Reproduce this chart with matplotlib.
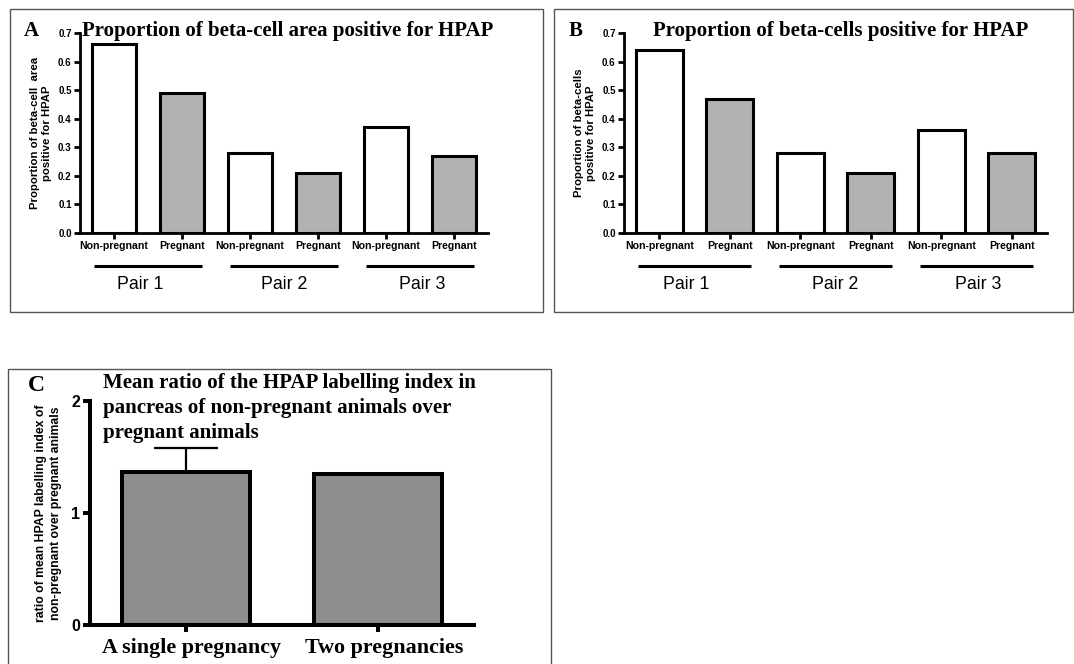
import numpy as np
import matplotlib
matplotlib.use("Agg")
import matplotlib.pyplot as plt
import matplotlib.transforms as mtransforms
from matplotlib.patches import Rectangle

W, H = 1074, 664

categories = ["Non-pregnant", "Pregnant"] * 3
pairs = ["Pair 1", "Pair 2", "Pair 3"]
area_positive = [0.66, 0.49, 0.28, 0.21, 0.37, 0.27]
cells_positive = [0.64, 0.47, 0.28, 0.21, 0.36, 0.28]
y_ticks_ab = [0.0, 0.1, 0.2, 0.3, 0.4, 0.5, 0.6, 0.7]

c_groups = ["A single pregnancy", "Two pregnancies"]
c_ratio = [1.37, 1.35]
c_err_upper = [0.21, 0.0]
c_ticks = [0, 1, 2]

SERIF = "Liberation Serif"
SANS = "Liberation Sans"
colors_ab = ["white", "#b2b2b2"] * 3


def px_axes(fig, left, top, right, bottom):
    return fig.add_axes([left / W, 1 - bottom / H, (right - left) / W, (bottom - top) / H])


def box(fig, left, top, right, bottom):
    fig.patches.append(Rectangle((left / W, 1 - bottom / H), (right - left) / W, (bottom - top) / H,
                                 transform=fig.transFigure, fill=False, edgecolor="#555555",
                                 linewidth=1.0))


def pair_panel(ax, values, title, letter, ylabel, title_x, pair_shift):
    x = np.arange(len(values))
    ax.bar(x, values, width=0.66, color=colors_ab, edgecolor="black", linewidth=2.2, zorder=2)
    ax.set_xlim(-0.5, 5.5)
    ax.set_ylim(0, 0.7)
    for s in ["top", "right"]:
        ax.spines[s].set_visible(False)
    for s in ["left", "bottom"]:
        ax.spines[s].set_linewidth(2.0)
    ax.set_yticks(y_ticks_ab)
    ax.set_yticklabels([f"{v:.1f}" for v in y_ticks_ab], fontsize=7, fontweight="bold", family=SANS)
    ax.set_xticks(x)
    ax.set_xticklabels(categories, fontsize=7.6, fontweight="bold", family=SANS)
    ax.tick_params(axis="both", width=2.0, length=4, pad=2)
    ax.set_ylabel(ylabel, fontsize=8.2, fontweight="bold", family=SANS, labelpad=4,
                  linespacing=1.3)
    tr = ax.get_xaxis_transform()
    for i, p in enumerate(pairs):
        ax.plot([2 * i - 0.3, 2 * i + 1.3], [-0.165, -0.165], color="black", lw=2.2,
                transform=tr, clip_on=False, solid_capstyle="butt")
        ax.text(2 * i + 0.5 + pair_shift[i], -0.26, p, transform=tr, ha="center", va="center",
                fontsize=12.8, family=SANS)
    ax.text(title_x, 1.01, title, transform=ax.transAxes, ha="center", va="center",
            fontsize=15, fontweight="bold", family=SERIF)
    ax.text(letter[1], 1.01, letter[0], transform=ax.transAxes, ha="center", va="center",
            fontsize=15, fontweight="bold", family=SERIF)


fig = plt.figure(figsize=(W / 100, H / 100), dpi=100)

box(fig, 10, 9, 543, 312)
box(fig, 554, 9, 1073, 312)
box(fig, 8, 369, 551, 670)

axA = px_axes(fig, 80, 33, 488, 233)
pair_panel(axA, area_positive, "Proportion of beta-cell area positive for HPAP", ("A", -0.12),
           "Proportion of beta-cell  area\npositive for HPAP", 0.508, [-0.12, 0.0, 0.03])

axB = px_axes(fig, 624, 33, 1047, 233)
pair_panel(axB, cells_positive, "Proportion of beta-cells positive for HPAP", ("B", -0.115),
           "Proportion of beta-cells\npositive for HPAP", 0.513, [-0.12, 0.0, 0.03])

axC = px_axes(fig, 90, 401, 474, 625.3)
xc = np.arange(len(c_ratio))
axC.bar(xc, c_ratio, width=0.67, color="#8e8e8e", edgecolor="black", linewidth=2.9, zorder=2)
axC.errorbar(xc, c_ratio, yerr=[np.zeros(len(c_ratio)), c_err_upper], fmt="none",
             ecolor="black", elinewidth=1.6, capsize=23, capthick=1.6, zorder=1)
axC.set_xlim(-0.5, 1.5)
axC.set_ylim(0, 2)
for s in ["top", "right"]:
    axC.spines[s].set_visible(False)
for s in ["left", "bottom"]:
    axC.spines[s].set_linewidth(2.9)
axC.set_yticks(c_ticks)
axC.set_yticklabels([str(v) for v in c_ticks], fontsize=11.5, fontweight="bold", family=SANS)
axC.set_xticks(xc)
axC.set_xticklabels(c_groups, fontsize=15.8, fontweight="bold", family=SERIF)
axC.tick_params(axis="both", width=2.9, length=5, pad=2)
axC.tick_params(axis="x", pad=4)
shift = mtransforms.ScaledTranslation(6 / 100, 0, fig.dpi_scale_trans)
for lbl in axC.get_xticklabels():
    lbl.set_transform(lbl.get_transform() + shift)
axC.set_ylabel("ratio of mean HPAP labelling index of\nnon-pregnant over pregnant animals",
               fontsize=8.8, fontweight="bold", family=SANS, labelpad=7, linespacing=1.3)
axC.text(0.034, 0.969, "Mean ratio of the HPAP labelling index in\npancreas of non-pregnant animals over\npregnant animals",
         transform=axC.transAxes, ha="left", va="center", fontsize=15, fontweight="bold",
         family=SERIF, linespacing=1.33)
axC.text(-0.139, 1.071, "C", transform=axC.transAxes, ha="center", va="center",
         fontsize=17, fontweight="bold", family=SERIF)

fig.savefig("out.png", dpi=100)
